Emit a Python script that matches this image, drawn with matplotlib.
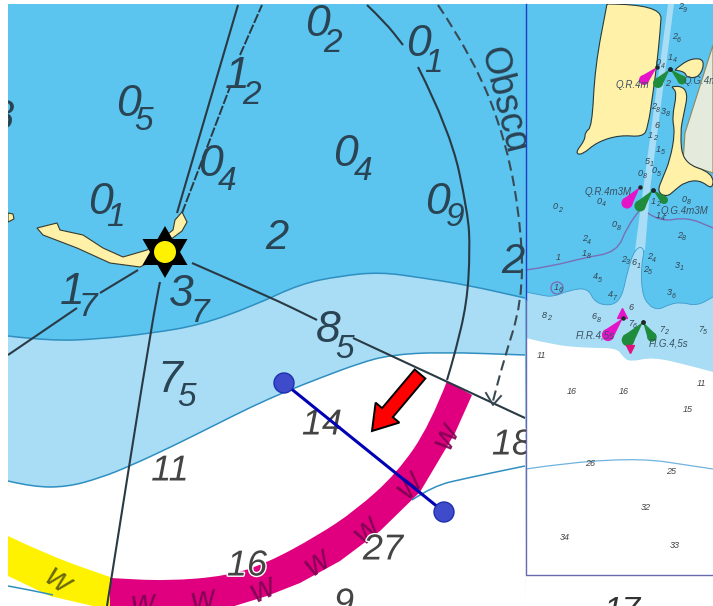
"""Nautical chart excerpt with a harbour inset, drawn in image pixel coordinates."""
import matplotlib
matplotlib.use("Agg")
import matplotlib.pyplot as plt
import matplotlib.patheffects as pe
from matplotlib.patches import Circle, FancyArrow, PathPatch, Polygon, Rectangle, RegularPolygon
from matplotlib.path import Path

W, H = 713, 606
DEEP = "#5BC4EF"
MID = "#A8DDF5"
INK = "#2a4454"
INK_WHITE = "#444444"

# main panel outlines
DEEP_EDGE = [(8, 336), (50, 341), (100, 339), (153, 333), (200, 325), (253, 306), (300, 284),
             (340, 276), (380, 272), (423, 278), (467, 285), (525, 298)]
MID_EDGE = [(8, 481), (33, 487), (67, 487), (100, 478), (130, 466), (173, 446), (213, 426),
            (253, 406), (287, 391), (320, 378), (360, 363), (390, 355), (440, 352), (525, 355)]
LOW_CONTOUR = [(412, 500), (433, 486), (467, 478), (525, 466)]
LOW_LEFT_CONTOUR = [(8, 586), (30, 590), (53, 595)]
MAGENTA_INNER = [(447, 381), (430, 425), (397, 473), (356, 510), (317, 536), (267, 563),
                 (227, 576), (167, 581), (110, 578)]
MAGENTA_OUTER = [(472, 395), (455, 433), (420, 492), (380, 531), (340, 561), (300, 583),
                 (267, 596), (215, 612), (110, 612)]
YELLOW_TOP = [(8, 536), (50, 556), (110, 577)]
YELLOW_BOTTOM = [(8, 576), (50, 596), (110, 610)]
ISLAND = [(37, 228), (57, 223), (60, 230), (83, 235), (103, 248), (123, 257), (147, 250), (173, 230),
          (175, 220), (182, 212), (187, 222), (182, 231), (170, 240), (150, 262), (140, 267), (110, 263),
          (77, 248), (43, 235)]
ISLET = [(8, 213), (13, 214), (14, 219), (8, 222)]

# black bearing lines, broken where the chart breaks them
SOLID_LINES = [[(177, 213), (238, 5)], [(192, 263), (270, 297), (317, 320)], [(353, 338), (525, 418)],
               [(160, 282), (155, 303), (107, 606)], [(138, 270), (100, 293)], [(77, 308), (8, 355)]]
LEADING_DASHES = [[(182, 213), (230, 87)], [(240, 55), (262, 5)]]
ARC_TOP = [(367, 5), (385, 22), (403, 45)]
ARC_BOTTOM = [(418, 67), (450, 130), (468, 213), (470, 250), (467, 303), (455, 353), (447, 380)]
DASH_ARC = [(438, 5), (473, 57), (507, 143), (522, 233), (522, 302), (503, 363), (493, 401)]

POINTER = [(284, 383), (444, 512)]
RED_TAIL = (420, 374)
RED_TIP = (372, 431)
LIGHT = (165, 252)

# (digit, sub digit, x, y, sub x, sub y)
MAIN_SOUNDINGS = [("0", "2", 317, 25, 333, 43), ("0", "5", 128, 105, 144, 122), ("1", "2", 237, 77, 252, 95),
                  ("0", "4", 210, 165, 227, 182), ("0", "1", 100, 203, 115, 218), ("0", "4", 345, 155, 363, 172),
                  ("0", "1", 418, 45, 433, 63), ("0", "9", 437, 202, 455, 218), ("1", "7", 72, 292, 88, 308),
                  ("3", "7", 181, 295, 200, 313), ("8", "5", 328, 331, 345, 350), ("7", "5", 170, 380, 187, 398)]
MAIN_DEPTHS = ["2", "2", "14", "11", "16", "27", "18", "9", "8"]
MAIN_DEPTH_X = [277, 513, 322, 170, 247, 383, 512, 344, 2]
MAIN_DEPTH_Y = [238, 262, 425, 471, 566, 550, 445, 604, 118]

# zigzag marks on the sector band
W_X = [57, 143, 203, 263, 317, 367, 410, 447]
W_Y = [581, 604, 601, 590, 563, 530, 485, 436]
W_ROT = [-35, 5, 10, 25, 35, 45, 50, 65]

# inset
LAND_WEST = [(607, 4), (662, 4), (660, 33), (657, 63), (653, 93), (648, 127), (643, 137), (620, 135),
             (597, 142), (582, 155), (575, 153), (585, 140), (585, 132), (592, 127), (595, 67)]
LAND_EAST = [(672, 87), (680, 85), (688, 93), (684, 113), (680, 133), (683, 163), (713, 173), (713, 190),
             (700, 180), (685, 182), (675, 190), (667, 197), (657, 192), (663, 177), (670, 160), (675, 133),
             (672, 117), (677, 93)]
LAND_NE = [(675, 70), (680, 65), (693, 58), (705, 60), (700, 77), (687, 78), (685, 72)]
LAND_GREY = [(713, 45), (685, 133), (683, 163), (713, 173)]
CHANNEL = [(668, 4), (674, 4), (650, 190), (645, 250), (635, 250), (643, 190)]
INSET_MID_TOP = [(526, 292), (540, 295), (553, 297), (570, 290), (588, 288), (595, 303), (612, 306),
                 (622, 297), (627, 273), (635, 248), (645, 247), (641, 267), (642, 293), (648, 305),
                 (658, 310), (668, 305), (680, 302), (697, 306), (713, 297)]
INSET_WHITE_TOP = [(526, 338), (553, 345), (587, 348), (617, 348), (623, 357), (630, 362), (653, 357),
                   (687, 365), (713, 372)]
CONTOUR_1M_W = [(526, 270), (553, 266), (583, 258), (617, 252), (627, 227), (642, 207)]
CONTOUR_1M_E = [(648, 213), (660, 222), (687, 217), (713, 228)]
CONTOUR_20M = [(526, 469), (620, 455), (713, 469)]
# (tip x, tip y, end x, end y)
MAGENTA_FLARES = [(657, 67, 644, 80), (640, 187, 627, 203), (623, 318, 608, 335)]
GREEN_FLARES = [(670, 69, 658, 83), (670, 69, 682, 80), (653, 190, 640, 206), (653, 190, 664, 200),
                (643, 322, 628, 340), (643, 322, 652, 337)]
LIGHT_LABELS = ["Q.R.4m", "Q.G.4m", "Q.R.4m3M", "Q.G.4m3M", "Fl.R.4,5s", "Fl.G.4,5s"]
LIGHT_LABEL_X = [632, 701, 608, 684, 595, 669]
LIGHT_LABEL_Y = [85, 81, 192, 211, 336, 343]
# (digit, sub digit, x, y)
INSET_SOUNDINGS = [("2", "9", 682, 8), ("2", "6", 676, 38), ("1", "4", 672, 59), ("0", "4", 660, 64),
                   ("2", "8", 655, 108), ("3", "8", 665, 113), ("1", "2", 652, 137), ("1", "5", 660, 151),
                   ("5", "1", 649, 163), ("0", "5", 656, 172), ("0", "8", 642, 175), ("0", "2", 557, 208),
                   ("0", "4", 601, 203), ("0", "8", 616, 226), ("1", "2", 655, 203), ("0", "8", 686, 201),
                   ("1", "4", 660, 217), ("2", "8", 681, 237), ("2", "4", 586, 240), ("1", "8", 586, 255),
                   ("2", "3", 625, 261), ("6", "1", 636, 264), ("2", "4", 651, 258), ("2", "5", 647, 271),
                   ("3", "1", 679, 267), ("4", "5", 597, 278), ("1", "6", 558, 289), ("4", "7", 612, 296),
                   ("3", "6", 671, 294), ("8", "2", 546, 317), ("6", "8", 596, 318), ("7", "6", 632, 325),
                   ("7", "2", 663, 331), ("7", "5", 702, 331)]
INSET_DEPTHS = ["2", "6", "1", "6", "11", "16", "16", "11", "15", "26", "25", "32", "34", "33"]
INSET_DEPTH_X = [668, 657, 558, 631, 541, 572, 624, 701, 688, 590, 671, 646, 565, 675]
INSET_DEPTH_Y = [83, 126, 257, 307, 355, 392, 392, 384, 410, 464, 471, 507, 538, 545]


def curve(points):
    # quadratic segments through midpoints, so outlines come out soft
    verts, codes = [points[0]], [Path.MOVETO]
    for p, q in zip(points[1:-1], points[2:]):
        verts += [p, ((p[0] + q[0]) / 2, (p[1] + q[1]) / 2)]
        codes += [Path.CURVE3, Path.CURVE3]
    verts.append(points[-1]); codes.append(Path.LINETO)
    return verts, codes


def area(ax, points, tail, color, z):
    verts, codes = curve(points)
    verts = verts + tail + [verts[0]]
    codes = codes + [Path.LINETO] * len(tail) + [Path.CLOSEPOLY]
    ax.add_patch(PathPatch(Path(verts, codes), fc=color, ec="none", zorder=z))


def line(ax, points, color, lw, z, ls="-"):
    verts, codes = curve(points)
    ax.add_patch(PathPatch(Path(verts, codes), fc="none", ec=color, lw=lw, ls=ls, zorder=z))


def land(ax, points, color, edge, z):
    verts, codes = curve(points + points[:1])
    ax.add_patch(PathPatch(Path(verts, codes), fc=color, ec=edge, lw=0.8, zorder=z))


def label(ax, x, y, s, size, z=3, **kw):
    kw.setdefault("family", "Liberation Sans")
    kw.setdefault("style", "italic")
    kw.setdefault("color", INK)
    ax.text(x, y, s, fontsize=size, ha="center", va="center", zorder=z, **kw)


def flare(ax, tip_x, tip_y, end_x, end_y, color):
    # narrow at the light, round at the far end
    dx, dy = end_x - tip_x, end_y - tip_y
    nx, ny = -dy * 0.27, dx * 0.27
    ax.add_patch(Polygon([(tip_x, tip_y), (end_x + nx, end_y + ny), (end_x - nx, end_y - ny)],
                         fc=color, ec="none", zorder=8))
    ax.add_patch(Circle((end_x, end_y), (nx ** 2 + ny ** 2) ** 0.5, fc=color, ec="none", zorder=8))
    ax.plot([tip_x], [tip_y], "o", ms=2.2, color="#1c2a2a", zorder=8.1)


def main():
    fig = plt.figure(figsize=(W / 100, H / 100), dpi=100)
    ax = fig.add_axes([0, 0, 1, 1])
    ax.set_xlim(0, W); ax.set_ylim(H, 0); ax.axis("off")

    # main panel
    ax.add_patch(Rectangle((8, 4), 518, 602, fc=DEEP, ec="none", zorder=0))
    area(ax, DEEP_EDGE, [(526, 606), (8, 606)], MID, 0.1)
    area(ax, MID_EDGE, [(526, 606), (8, 606)], "white", 0.2)
    area(ax, MAGENTA_INNER, MAGENTA_OUTER[::-1], "#E0007F", 0.5)
    area(ax, YELLOW_TOP, YELLOW_BOTTOM[::-1], "#FFF200", 0.5)
    for edge in (DEEP_EDGE, MID_EDGE, LOW_CONTOUR, LOW_LEFT_CONTOUR):
        line(ax, edge, "#2F8FC0", 1.1, 1)
    for pts in (ISLAND, ISLET):
        ax.add_patch(Polygon(pts, fc="#FFF1A8", ec="#3a3a2a", lw=0.8, zorder=1))
    for pts in SOLID_LINES:
        line(ax, pts, "#2a3a44", 1.5, 1.2)
    for pts in LEADING_DASHES:
        line(ax, pts, "#2a3a44", 1.4, 1.2, ls=(0, (5, 1)))
    line(ax, ARC_TOP, "#2a3a44", 1.5, 1.2)
    line(ax, ARC_BOTTOM, "#2a3a44", 1.5, 1.2)
    line(ax, DASH_ARC, "#3a4a54", 1.5, 1.2, ls=(0, (5, 2.5)))
    end = DASH_ARC[-1]
    ax.plot([end[0] - 7, end[0], end[0] + 8], [end[1] - 8, end[1] + 4, end[1] - 5], color="#3a4a54", lw=1.4, zorder=1.2)

    ax.add_patch(RegularPolygon(LIGHT, 3, radius=26, orientation=0, fc="black", ec="none", zorder=2))
    ax.add_patch(RegularPolygon(LIGHT, 3, radius=26, orientation=3.14159, fc="black", ec="none", zorder=2))
    ax.add_patch(Circle(LIGHT, 11, fc="#FFF200", ec="none", zorder=2.1))

    for i, (x, y, r) in enumerate(zip(W_X, W_Y, W_ROT)):
        col = "#5a5a10" if i == 0 else "#7a0050"
        label(ax, x, y, "w", 24, z=1.5, rotation=r, color=col, alpha=0.9)
    for big, sub, x, y, sx, sy in MAIN_SOUNDINGS:
        label(ax, x, y, big, 32)
        label(ax, sx, sy, sub, 24)
    halo = [pe.withStroke(linewidth=2, foreground="white")]
    for s, x, y in zip(MAIN_DEPTHS, MAIN_DEPTH_X, MAIN_DEPTH_Y):
        if y > 350:
            label(ax, x, y, s, 26, color=INK_WHITE, path_effects=halo)
        else:
            label(ax, x, y, s, 30)
    ax.text(503, 100, "Obscd", fontsize=27, family="Liberation Sans", color=INK, rotation=-76,
            rotation_mode="anchor", ha="center", va="center", zorder=3)

    (x0, y0), (x1, y1) = POINTER
    ax.plot([x0, x1], [y0, y1], color="#0000B4", lw=2.2, zorder=4)
    for x, y in POINTER:
        ax.add_patch(Circle((x, y), 10, fc="#3E4CCB", ec="#1E2FB0", lw=1, zorder=4.1))
    ax.add_patch(FancyArrow(RED_TAIL[0], RED_TAIL[1], RED_TIP[0] - RED_TAIL[0], RED_TIP[1] - RED_TAIL[1],
                            width=14, head_width=31, head_length=24, length_includes_head=True,
                            fc="#FF0000", ec="black", lw=1.4, zorder=4.2))

    # page margin on top of the main panel
    ax.add_patch(Rectangle((0, 0), 8, H, fc="white", ec="none", zorder=4.5))
    ax.add_patch(Rectangle((0, 0), W, 4, fc="white", ec="none", zorder=6))

    # inset, covers what runs past the main panel
    ax.add_patch(Rectangle((526, 0), W - 526, 576, fc=DEEP, ec="none", zorder=5))
    area(ax, INSET_MID_TOP, [(713, 576), (526, 576)], MID, 5.1)
    area(ax, INSET_WHITE_TOP, [(713, 576), (526, 576)], "white", 5.2)
    ax.add_patch(Rectangle((526, 576), W - 526, 30, fc="white", ec="none", zorder=5.2))
    ax.add_patch(Polygon(CHANNEL, fc=MID, ec="none", zorder=5.3))
    ax.add_patch(Polygon(LAND_GREY, fc="#E4EBDD", ec="#8a8a60", lw=0.8, zorder=5.4))
    for pts in (LAND_WEST, LAND_EAST, LAND_NE):
        land(ax, pts, "#FFF1A8", "#2a3a3a", 5.5)
    for pts in (CONTOUR_1M_W, CONTOUR_1M_E):
        line(ax, pts, "#7A6FB5", 1, 5.6)
    ax.add_patch(Circle((557, 288), 6, fc="none", ec="#7A6FB5", lw=1, zorder=5.6))
    line(ax, CONTOUR_20M, "#6FB4DE", 0.9, 5.6)
    line(ax, INSET_MID_TOP, "#3F9BCB", 0.6, 5.6)
    for f in MAGENTA_FLARES:
        flare(ax, *f, "#E614C8")
    for f in GREEN_FLARES:
        flare(ax, *f, "#1E8C3C")
    ax.plot([622], [313], marker="^", ms=7, color="#E614C8", zorder=8)
    ax.plot([630], [349], marker="v", ms=6, color="#E0107F", zorder=8)
    for s, x, y in zip(LIGHT_LABELS, LIGHT_LABEL_X, LIGHT_LABEL_Y):
        label(ax, x, y, s, 7, z=9, color="#3a5060")
    for big, sub, x, y in INSET_SOUNDINGS:
        label(ax, x - 1.5, y - 1.5, big, 6.5, z=9, color="#33444f")
        label(ax, x + 2.5, y + 2, sub, 5, z=9, color="#33444f")
    for s, x, y in zip(INSET_DEPTHS, INSET_DEPTH_X, INSET_DEPTH_Y):
        label(ax, x, y, s, 6.5, z=9, color="#444444")
    label(ax, 622, 612, "17", 24, z=9, color="#333333")

    # inset frame
    ax.plot([526, 526], [4, 300], color="#1E3CC8", lw=1, zorder=10)
    ax.plot([526, 526, W], [300, 575, 575], color="#6A6AB0", lw=1, zorder=10)

    fig.savefig("out.png", dpi=100)
    plt.close(fig)


if __name__ == "__main__":
    main()
